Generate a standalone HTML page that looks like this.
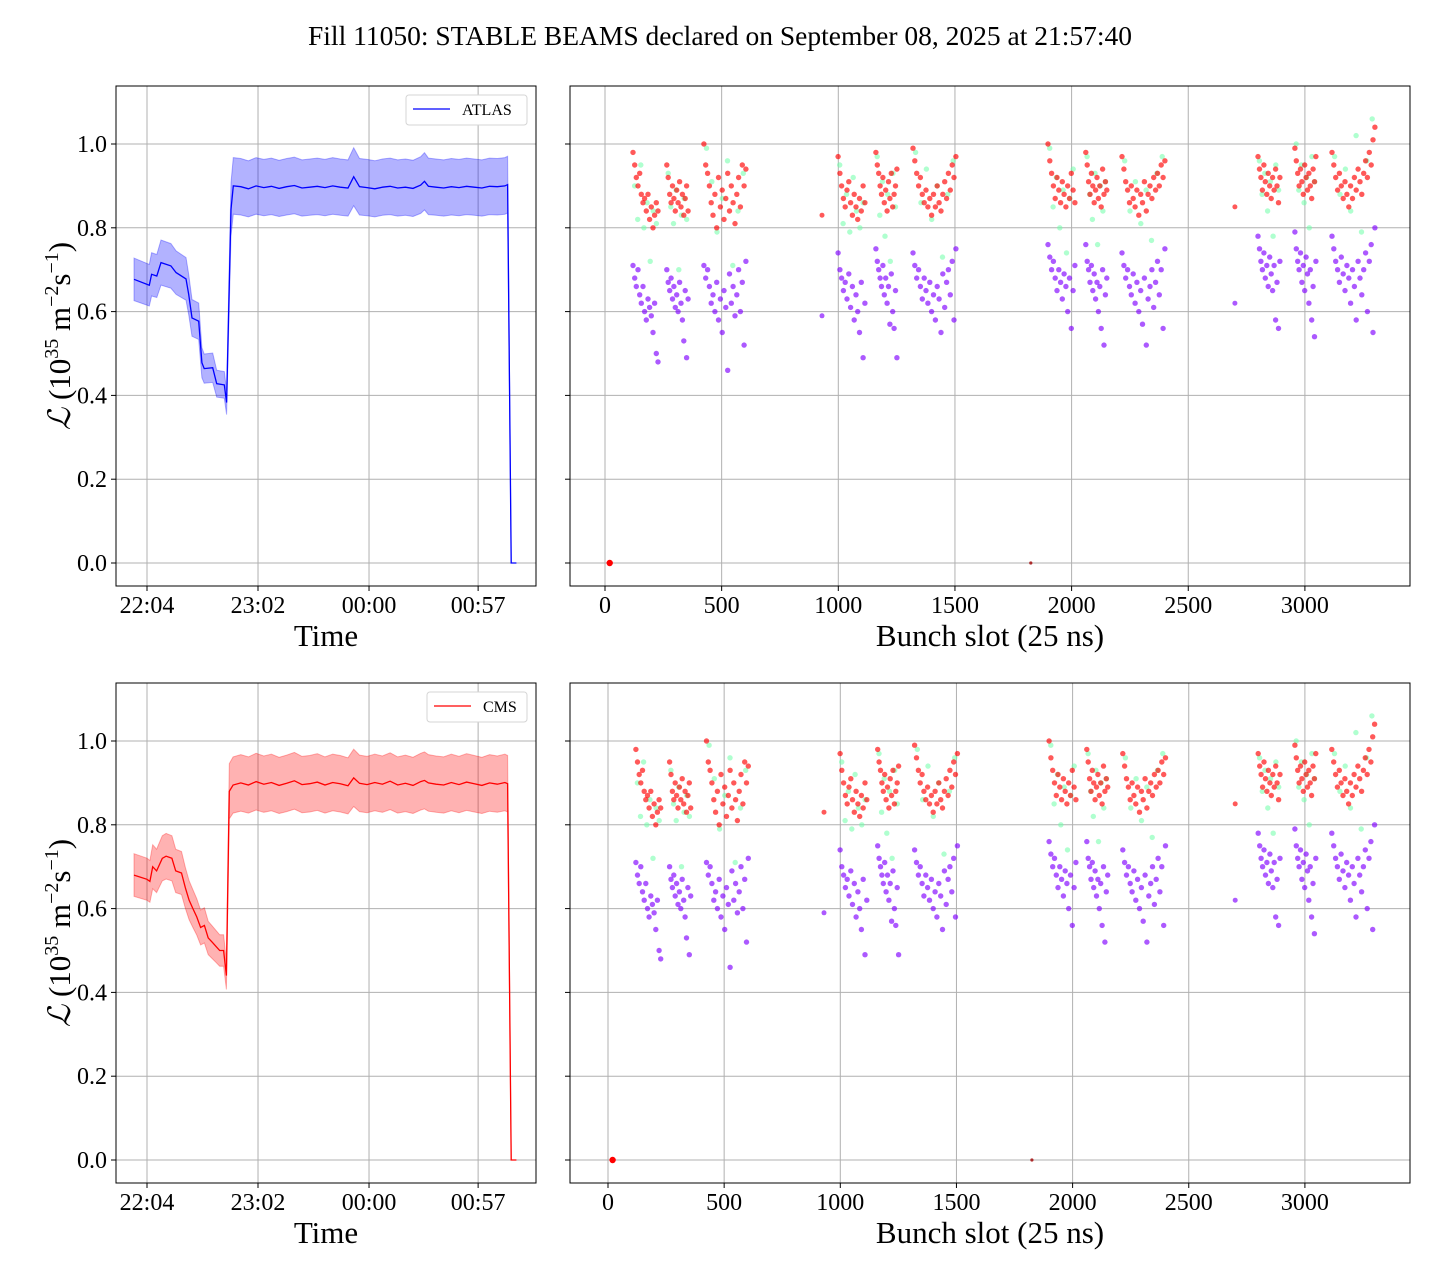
<!DOCTYPE html>
<html><head><meta charset="utf-8"><style>
html,body{margin:0;padding:0;background:#fff}
svg{display:block;font-family:"Liberation Serif","DejaVu Serif",serif}
</style></head><body>
<svg id="fig" width="1440" height="1280" viewBox="0 0 1440 1280" xmlns="http://www.w3.org/2000/svg">
<text x="720" y="45" text-anchor="middle" font-size="27.5">Fill 11050: STABLE BEAMS declared on September 08, 2025 at 21:57:40</text>
</svg>
<script>
// ---------- data ----------
const yTicks = [0.0, 0.2, 0.4, 0.6, 0.8, 1.0];
const yTickLabels = ["0.0","0.2","0.4","0.6","0.8","1.0"];
const timeTicks = [0, 58, 116, 173];            // minutes since 22:04
const timeTickLabels = ["22:04","23:02","00:00","00:57"];
const slotTicks = [0, 500, 1000, 1500, 2000, 2500, 3000];
const slotTickLabels = ["0","500","1000","1500","2000","2500","3000"];

const atlasTimes = [-6.8,1.2,2.4,5.1,7.3,12.5,15.2,20.4,21.8,23.5,27,28.7,29.9,34.3,36.4,40.4,41.6,43.9,45.1,
 49,53,57,61,65,69,73,77,81,85,89,93,97,101,105,108,111,115,119,123,127,131,135,139,143,145,147,151,155,159,163,167,171,175,179,183,187,188.4,190.3,193];
const atlasLumi = [0.677,0.663,0.689,0.685,0.717,0.709,0.693,0.678,0.641,0.585,0.577,0.478,0.464,0.466,0.428,0.425,0.383,0.844,0.900,
 0.898,0.893,0.900,0.896,0.899,0.894,0.898,0.901,0.895,0.897,0.899,0.896,0.900,0.897,0.895,0.922,0.898,0.896,0.893,0.897,0.899,0.895,0.897,0.894,0.902,0.911,0.899,0.897,0.895,0.898,0.896,0.899,0.897,0.895,0.899,0.898,0.900,0.903,0,0];
const cmsTimes = [-6.8,0,1.5,3,5,8,10,13,15,18,20,22,24,26,28,30,32,34,36,38,40,41.5,43,45,
 49,53,57,61,65,69,73,77,81,85,89,93,97,101,105,108,111,115,119,123,127,131,135,139,143,145,147,151,155,159,163,167,171,175,179,183,187,188.4,190.3,193];
const cmsLumi = [0.680,0.670,0.665,0.700,0.690,0.720,0.725,0.720,0.690,0.685,0.650,0.620,0.600,0.580,0.555,0.560,0.530,0.520,0.510,0.500,0.500,0.440,0.880,0.895,
 0.900,0.895,0.903,0.897,0.901,0.894,0.899,0.905,0.896,0.898,0.902,0.895,0.901,0.898,0.893,0.912,0.899,0.896,0.901,0.897,0.904,0.895,0.899,0.894,0.903,0.906,0.900,0.897,0.895,0.901,0.896,0.902,0.898,0.894,0.900,0.897,0.901,0.898,0,0];
const relErr = 0.075;

const trainStart = [120,265,424,999,1161,1320,1899,2061,2216,2799,2957,3116];
const trainEnd   = [227,356,604,1114,1251,1504,2014,2151,2400,2893,3047,3300];
const redVals = [
 [0.98,0.95,0.92,0.90,0.93,0.88,0.86,0.87,0.84,0.88,0.82,0.85,0.80,0.83,0.86,0.84],
 [0.95,0.92,0.88,0.86,0.90,0.87,0.84,0.89,0.86,0.91,0.85,0.88,0.83,0.87,0.90,0.84],
 [1.00,0.95,0.93,0.90,0.86,0.83,0.88,0.80,0.92,0.85,0.89,0.82,0.87,0.93,0.84,0.90,0.86,0.81,0.88,0.92,0.85,0.95,0.90,0.94],
 [0.97,0.93,0.90,0.87,0.85,0.89,0.91,0.86,0.83,0.88,0.85,0.82,0.87,0.84,0.90,0.86],
 [0.98,0.95,0.93,0.90,0.88,0.92,0.86,0.89,0.84,0.91,0.87,0.93,0.85,0.88,0.90,0.94],
 [0.99,0.96,0.93,0.90,0.92,0.88,0.86,0.89,0.85,0.87,0.83,0.88,0.85,0.90,0.86,0.84,0.88,0.91,0.87,0.93,0.89,0.95,0.92,0.97],
 [1.00,0.96,0.93,0.90,0.87,0.92,0.89,0.86,0.91,0.88,0.85,0.90,0.87,0.93,0.89,0.86],
 [0.98,0.95,0.91,0.88,0.93,0.90,0.86,0.89,0.92,0.87,0.90,0.85,0.94,0.88,0.91,0.89],
 [0.97,0.94,0.91,0.89,0.86,0.90,0.87,0.85,0.89,0.83,0.88,0.86,0.91,0.84,0.88,0.90,0.87,0.92,0.89,0.93,0.90,0.95,0.92,0.96],
 [0.97,0.94,0.92,0.89,0.95,0.91,0.88,0.93,0.90,0.87,0.92,0.89,0.94,0.90,0.86,0.92],
 [0.99,0.96,0.93,0.90,0.94,0.91,0.88,0.95,0.92,0.89,0.93,0.90,0.87,0.94,0.91,0.97],
 [0.98,0.95,0.92,0.89,0.93,0.90,0.87,0.91,0.88,0.85,0.90,0.87,0.92,0.89,0.94,0.91,0.88,0.93,0.96,0.92,0.98,0.95,1.01,1.04]
];
const purpleVals = [
 [0.71,0.68,0.66,0.70,0.64,0.62,0.66,0.60,0.58,0.63,0.61,0.59,0.55,0.62,0.50,0.48],
 [0.70,0.67,0.65,0.68,0.63,0.66,0.61,0.64,0.60,0.67,0.62,0.58,0.53,0.65,0.49,0.63],
 [0.71,0.68,0.70,0.66,0.62,0.64,0.60,0.67,0.58,0.63,0.55,0.65,0.61,0.46,0.69,0.62,0.66,0.59,0.64,0.70,0.60,0.67,0.52,0.72],
 [0.74,0.70,0.68,0.65,0.67,0.63,0.69,0.61,0.66,0.58,0.64,0.60,0.55,0.67,0.49,0.62],
 [0.75,0.72,0.70,0.68,0.66,0.71,0.64,0.68,0.62,0.66,0.57,0.69,0.60,0.56,0.65,0.49],
 [0.74,0.71,0.68,0.70,0.66,0.63,0.68,0.65,0.62,0.67,0.60,0.64,0.58,0.66,0.63,0.55,0.69,0.61,0.67,0.70,0.64,0.72,0.58,0.75],
 [0.76,0.73,0.70,0.72,0.68,0.65,0.70,0.67,0.63,0.69,0.66,0.60,0.68,0.56,0.65,0.71],
 [0.76,0.72,0.70,0.67,0.71,0.65,0.69,0.63,0.67,0.60,0.66,0.56,0.70,0.52,0.64,0.68],
 [0.74,0.71,0.68,0.70,0.66,0.64,0.69,0.62,0.67,0.60,0.65,0.57,0.68,0.52,0.63,0.66,0.70,0.61,0.67,0.72,0.64,0.70,0.56,0.75],
 [0.78,0.75,0.72,0.70,0.74,0.68,0.71,0.66,0.73,0.69,0.65,0.71,0.58,0.67,0.56,0.72],
 [0.79,0.75,0.72,0.70,0.74,0.67,0.71,0.65,0.73,0.69,0.62,0.70,0.58,0.66,0.54,0.72],
 [0.78,0.75,0.72,0.70,0.67,0.73,0.69,0.65,0.71,0.68,0.62,0.70,0.66,0.58,0.72,0.68,0.64,0.70,0.74,0.60,0.72,0.76,0.55,0.80]
];
const greenVals = [
 [0.90,0.82,0.95,0.80,0.86,0.72,0.84,0.81],
 [0.93,0.85,0.81,0.89,0.70,0.83,0.87,0.82],
 [0.99,0.91,0.79,0.87,0.96,0.71,0.84,0.93],
 [0.95,0.81,0.88,0.79,0.92,0.84,0.80,0.86],
 [0.97,0.83,0.91,0.78,0.88,0.72,0.93,0.85],
 [0.98,0.86,0.94,0.82,0.90,0.73,0.88,0.96],
 [0.99,0.85,0.92,0.80,0.89,0.74,0.87,0.94],
 [0.97,0.88,0.82,0.93,0.76,0.90,0.84,0.91],
 [0.96,0.84,0.91,0.81,0.89,0.77,0.93,0.97],
 [0.96,0.88,0.93,0.84,0.91,0.78,0.95,0.89],
 [1.00,0.89,0.95,0.86,0.92,0.80,0.97,0.91],
 [0.97,0.88,0.94,0.84,1.02,0.79,0.96,1.06]
];
const singleSlots = [930, 2700];
const singleRed = [0.83, 0.85];
const singlePurple = [0.59, 0.62];

// ---------- drawing ----------
const NS = "http://www.w3.org/2000/svg";
const svg = document.getElementById("fig");
function mk(tag, attrs, parent){ const e=document.createElementNS(NS,tag); for(const k in attrs) e.setAttribute(k,attrs[k]); (parent||svg).appendChild(e); return e; }

function makeAxes(x0,y0,w,h,yScale,xScale,xTicks,xLabels,showYLabels,xTitle,prefix){
  const g = mk("g",{});
  
  
  xTicks.forEach((t,i)=>{
    const x=xScale(t);
    const l=mk("line",{x1:x,x2:x,y1:y0,y2:y0+h,stroke:"#b0b0b0","stroke-width":1},g);
    
    
    const tk=mk("line",{x1:x,x2:x,y1:y0+h,y2:y0+h+5,stroke:"#000","stroke-width":1},g);
    
    
    const tx=mk("text",{x:x,y:y0+h+27,"text-anchor":"middle","font-size":24},g);
    tx.textContent=xLabels[i];
    
    
  });
  yTicks.forEach((t,i)=>{
    const y=yScale(t);
    const l=mk("line",{x1:x0,x2:x0+w,y1:y,y2:y,stroke:"#b0b0b0","stroke-width":1},g);
    
    
    const tk=mk("line",{x1:x0-5,x2:x0,y1:y,y2:y,stroke:"#000","stroke-width":1},g);
    
    
    if(showYLabels){
      const tx=mk("text",{x:x0-9,y:y+8,"text-anchor":"end","font-size":24},g);
      tx.textContent=yTickLabels[i];
      
      
    }
  });
  const xt=mk("text",{x:x0+w/2,y:y0+h+60,"text-anchor":"middle","font-size":31},g);
  xt.textContent=xTitle;
  
  
  return g;
}
function frame(x0,y0,w,h,prefix){
  const r=mk("rect",{x:x0,y:y0,width:w,height:h,fill:"none",stroke:"#000","stroke-width":1});
  
  
}

function linePanel(y0, times, lumi, color, fill, name, legendX){
  const x0=116,w=420,h=500;
  const xS=t=>147+t*1.914;
  const yS=v=>y0+477-v*419;
  makeAxes(x0,y0,w,h,yS,xS,timeTicks,timeTickLabels,true,"Time",name+"-lumi");
  let up="",lo="",ln="";
  times.forEach((t,i)=>{
    const e=lumi[i]*relErr;
    up+=(i?"L":"M")+xS(t).toFixed(1)+","+yS(lumi[i]+e).toFixed(1);
    ln+=(i?"L":"M")+xS(t).toFixed(1)+","+yS(lumi[i]).toFixed(1);
  });
  for(let i=times.length-1;i>=0;i--){ lo+="L"+xS(times[i]).toFixed(1)+","+yS(lumi[i]-lumi[i]*relErr).toFixed(1); }
  const band=mk("path",{d:up+lo+"Z",fill:fill,"fill-opacity":0.3,stroke:fill,"stroke-opacity":0.3});
  
  
  const line=mk("path",{d:ln,fill:"none",stroke:color,"stroke-width":1.3});
  
  
  frame(x0,y0,w,h,name+"-lumi");
  const lg=mk("g",{});
  
  
  mk("rect",{x:legendX,y:y0+9,width:527-legendX,height:30,rx:3,fill:"#fff",stroke:"#d5d5d5"},lg);
  mk("line",{x1:legendX+7,x2:legendX+44,y1:y0+23,y2:y0+23,stroke:color,"stroke-width":1.3},lg);
  const lt=mk("text",{x:legendX+56,y:y0+29,"font-size":16},lg);
  lt.textContent=name.toUpperCase();
  
  
  const yt=mk("text",{transform:`translate(70,${y0+250}) rotate(-90)`,"text-anchor":"middle","font-size":31});
  
  
  yt.innerHTML='<tspan font-style="italic">ℒ</tspan> (10<tspan font-size="20" dy="-12">35</tspan><tspan dy="12"> m</tspan><tspan font-size="20" dy="-12">−2</tspan><tspan dy="12">s</tspan><tspan font-size="20" dy="-12">−1</tspan><tspan dy="12">)</tspan>';
}

function scatterPanel(y0, zeroPx, perSlot, name){
  const x0=570,w=840,h=500;
  const xS=s=>zeroPx+s*perSlot;
  const yS=v=>y0+477-v*419;
  makeAxes(x0,y0,w,h,yS,xS,slotTicks,slotTickLabels,false,"Bunch slot (25 ns)",name+"-bunch");
  const dot=(s,v,c,op,r,nm)=>{
    const d=mk("circle",{cx:xS(s).toFixed(1),cy:yS(v).toFixed(1),r:r,fill:c,"fill-opacity":op});
    
    
  };
  trainStart.forEach((st,k)=>{
    const en=trainEnd[k];
    greenVals[k].forEach((v,i,a)=>dot(st+(en-st)*(i+0.5)/a.length,v,"#6dffa8",0.55,2.7,name+"-green-point"));
  });
  trainStart.forEach((st,k)=>{
    const en=trainEnd[k];
    purpleVals[k].forEach((v,i,a)=>dot(st+(en-st)*i/(a.length-1),v,"#8000ff",0.65,2.7,name+"-purple-point"));
    redVals[k].forEach((v,i,a)=>dot(st+(en-st)*i/(a.length-1),v,"#ff0000",0.65,2.7,name+"-red-point"));
  });
  singleSlots.forEach((s,i)=>{
    dot(s,singlePurple[i],"#8000ff",0.65,2.5,name+"-purple-point");
    dot(s,singleRed[i],"#ff0000",0.65,2.5,name+"-red-point");
  });
  dot(20,0,"#ff0000",1,3.2,name+"-zero-point");
  dot(1825,0,"#a00000",0.8,1.6,name+"-zero-point");
  frame(x0,y0,w,h,name+"-bunch");
}

linePanel(86, atlasTimes, atlasLumi, "#0000ff", "#0000ff", "atlas", 406);
scatterPanel(86, 605, 0.2333, "atlas");
linePanel(683, cmsTimes, cmsLumi, "#ff0000", "#ff0000", "cms", 427);
scatterPanel(683, 608, 0.2323, "cms");
</script>
</body></html>
